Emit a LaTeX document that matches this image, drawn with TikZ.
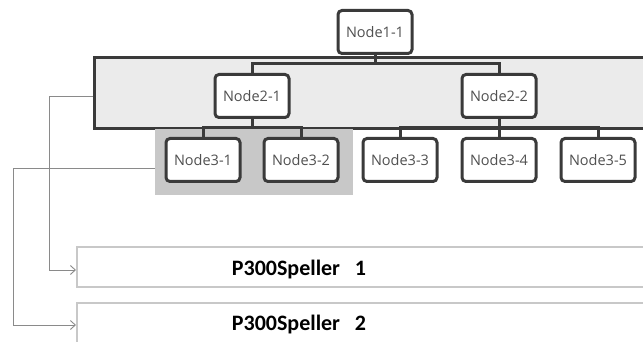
\documentclass[tikz,border=0pt]{standalone}
\usepackage{fontspec}
\setmainfont{Open Sans}
\newfontfamily\calib{Carlito}
\usetikzlibrary{arrows.meta}
\definecolor{bandfill}{HTML}{EBEBEB}
\definecolor{groupfill}{HTML}{C8C8C8}
\definecolor{dark}{HTML}{3A3A3A}
\definecolor{txt}{HTML}{505050}
\definecolor{lgray}{HTML}{C8C8C8}
\definecolor{arrgray}{HTML}{8A8A8A}
\tikzset{
  treenode/.style={draw=dark, line width=3pt, rounded corners=4pt, fill=white,
    minimum width=74pt, minimum height=43pt, inner sep=0pt,
    font=\fontsize{14.5}{16}\selectfont, text=txt},
  conn/.style={draw=dark, line width=3pt},
  outbox/.style={draw=lgray, line width=2pt, fill=white, minimum height=40pt,
    minimum width=600pt, anchor=west, inner sep=0pt},
  spell/.style={font=\calib\bfseries\fontsize{22}{26}\selectfont, text=black},
  link/.style={draw=arrgray, line width=0.9pt, -{Straight Barb[length=5pt,width=9pt]}}
}
\begin{document}
\begin{tikzpicture}[x=1pt,y=-1pt]
\useasboundingbox (0,0) rectangle (643,342);
\clip (0,0) rectangle (643,342);
% band
\node[draw=dark, line width=3pt, fill=bandfill, minimum width=620pt, minimum height=71pt,
  anchor=north west, inner sep=0pt] (band) at (93,56) {};
% group
\node[fill=groupfill, minimum width=198pt, minimum height=66pt, anchor=north west,
  inner sep=0pt] (grp) at (155,129) {};
% nodes
\node[treenode] (n11) at (375,32) {Node1-1};
\node[treenode] (n21) at (252,96) {Node2-1};
\node[treenode] (n22) at (499,96) {Node2-2};
\node[treenode] (n31) at (203,160) {Node3-1};
\node[treenode] (n32) at (301,160) {Node3-2};
\node[treenode] (n33) at (400,160) {Node3-3};
\node[treenode] (n34) at (499,160) {Node3-4};
\node[treenode] (n35) at (598,160) {Node3-5};
% connectors
\coordinate (j1) at (375,64);
\coordinate (j2) at (252,128);
\coordinate (j3) at (499,128);
\draw[conn] (n11.south) -- (j1) -| (n21.north);
\draw[conn] (j1) -| (n22.north);
\draw[conn] (n21.south) -- (j2) -| (n31.north);
\draw[conn] (j2) -| (n32.north);
\draw[conn] (n22.south) -- (j3) -| (n33.north);
\draw[conn] (j3) -| (n35.north);
\draw[conn] (j3) -- (n34.north);
% output boxes
\node[outbox] (p1) at (76,266.5) {};
\node[outbox] (p2) at (76,322.5) {};
\node[spell] (t1) at (299,269.5) {P300Speller\ \ \ 1};
\node[spell] (t2) at (299,324.5) {P300Speller\ \ \ 2};
% links
\coordinate (c1) at (49,96);
\coordinate (c2) at (13,168);
\draw[link] (band.west |- c1) -- (c1) |- (p1.west |- 0,270);
\draw[link] (grp.west |- c2) -- (c2) |- (p2.west |- 0,325);
\end{tikzpicture}
\end{document}
